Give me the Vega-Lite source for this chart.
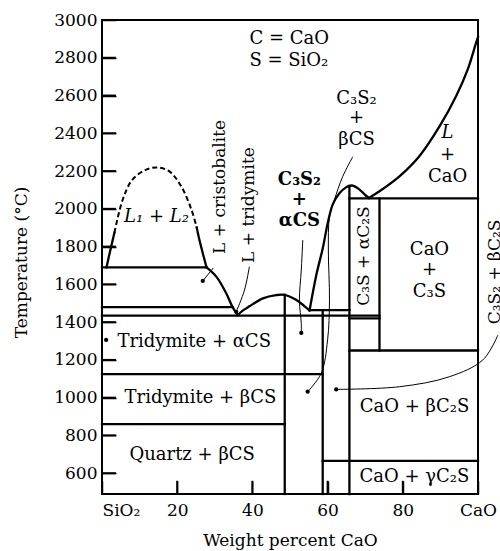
{
  "$schema": "https://vega.github.io/schema/vega-lite/v6.json",
  "width": 376,
  "height": 474,
  "autosize": {"type": "none"},
  "padding": {"left": 102, "top": 20, "right": 22, "bottom": 57},
  "background": "white",
  "config": {
    "view": {"stroke": "black", "strokeWidth": 2},
    "font": "DejaVu Serif",
    "axis": {
      "grid": false,
      "domain": false,
      "labelFont": "DejaVu Serif",
      "titleFont": "DejaVu Serif",
      "labelColor": "black",
      "titleColor": "black",
      "tickColor": "black",
      "tickWidth": 1.5,
      "labelFontSize": 17,
      "titleFontSize": 17,
      "titleFontWeight": "normal"
    }
  },
  "datasets": {
    "bounds": [
      {"seg": "s1", "i": 0, "x": 0, "t": 1690}, {"seg": "s1", "i": 1, "x": 27.8, "t": 1690},
      {"seg": "s2", "i": 0, "x": 0, "t": 1480}, {"seg": "s2", "i": 1, "x": 34.7, "t": 1480},
      {"seg": "s3", "i": 0, "x": 0, "t": 1435}, {"seg": "s3", "i": 1, "x": 73.8, "t": 1435},
      {"seg": "s4", "i": 0, "x": 0, "t": 1125}, {"seg": "s4", "i": 1, "x": 58.7, "t": 1125},
      {"seg": "s5", "i": 0, "x": 0, "t": 860}, {"seg": "s5", "i": 1, "x": 48.6, "t": 860},
      {"seg": "s6", "i": 0, "x": 48.6, "t": 1545}, {"seg": "s6", "i": 1, "x": 48.6, "t": 490},
      {"seg": "s7", "i": 0, "x": 58.7, "t": 1462}, {"seg": "s7", "i": 1, "x": 58.7, "t": 490},
      {"seg": "s8", "i": 0, "x": 65.8, "t": 2122}, {"seg": "s8", "i": 1, "x": 65.8, "t": 490},
      {"seg": "s9", "i": 0, "x": 73.8, "t": 2055}, {"seg": "s9", "i": 1, "x": 73.8, "t": 1250},
      {"seg": "s10", "i": 0, "x": 65.8, "t": 2055}, {"seg": "s10", "i": 1, "x": 100, "t": 2055},
      {"seg": "s11", "i": 0, "x": 65.8, "t": 1250}, {"seg": "s11", "i": 1, "x": 100, "t": 1250},
      {"seg": "s12", "i": 0, "x": 58.7, "t": 665}, {"seg": "s12", "i": 1, "x": 100, "t": 665},
      {"seg": "s13", "i": 0, "x": 55.2, "t": 1464}, {"seg": "s13", "i": 1, "x": 65.8, "t": 1464},
      {"seg": "s14", "i": 0, "x": 65.8, "t": 1420}, {"seg": "s14", "i": 1, "x": 73.8, "t": 1420},
      {"seg": "s15a", "i": 0, "x": 1.2, "t": 1690}, {"seg": "s15a", "i": 1, "x": 2.2, "t": 1780}, {"seg": "s15a", "i": 2, "x": 3.3, "t": 1873},
      {"seg": "s15c", "i": 0, "x": 25.2, "t": 1900}, {"seg": "s15c", "i": 1, "x": 25.9, "t": 1836}, {"seg": "s15c", "i": 2, "x": 27.0, "t": 1750}, {"seg": "s15c", "i": 3, "x": 27.8, "t": 1690},
      {"seg": "s16", "i": 0, "x": 27.8, "t": 1690}, {"seg": "s16", "i": 1, "x": 30.4, "t": 1641}, {"seg": "s16", "i": 2, "x": 33.0, "t": 1554}, {"seg": "s16", "i": 3, "x": 34.7, "t": 1481}, {"seg": "s16", "i": 4, "x": 36.1, "t": 1437},
      {"seg": "s17", "i": 0, "x": 36.1, "t": 1437}, {"seg": "s17", "i": 1, "x": 37.5, "t": 1462}, {"seg": "s17", "i": 2, "x": 39.2, "t": 1484}, {"seg": "s17", "i": 3, "x": 42.8, "t": 1526}, {"seg": "s17", "i": 4, "x": 46.3, "t": 1543}, {"seg": "s17", "i": 5, "x": 48.5, "t": 1545}, {"seg": "s17", "i": 6, "x": 51.6, "t": 1519}, {"seg": "s17", "i": 7, "x": 53.9, "t": 1484}, {"seg": "s17", "i": 8, "x": 55.2, "t": 1462},
      {"seg": "s18", "i": 0, "x": 55.2, "t": 1462}, {"seg": "s18", "i": 1, "x": 57.0, "t": 1650}, {"seg": "s18", "i": 2, "x": 58.7, "t": 1790}, {"seg": "s18", "i": 3, "x": 60.1, "t": 1930}, {"seg": "s18", "i": 4, "x": 61.4, "t": 2025}, {"seg": "s18", "i": 5, "x": 63.2, "t": 2084}, {"seg": "s18", "i": 6, "x": 65.0, "t": 2115}, {"seg": "s18", "i": 7, "x": 65.8, "t": 2122}, {"seg": "s18", "i": 8, "x": 66.7, "t": 2123}, {"seg": "s18", "i": 9, "x": 68.5, "t": 2102}, {"seg": "s18", "i": 10, "x": 70.3, "t": 2068}, {"seg": "s18", "i": 11, "x": 71.0, "t": 2058},
      {"seg": "s19", "i": 0, "x": 71.0, "t": 2058}, {"seg": "s19", "i": 1, "x": 73.8, "t": 2093}, {"seg": "s19", "i": 2, "x": 79.1, "t": 2172}, {"seg": "s19", "i": 3, "x": 84.4, "t": 2279}, {"seg": "s19", "i": 4, "x": 89.8, "t": 2438}, {"seg": "s19", "i": 5, "x": 94.2, "t": 2598}, {"seg": "s19", "i": 6, "x": 97.3, "t": 2740}, {"seg": "s19", "i": 7, "x": 99.5, "t": 2880}, {"seg": "s19", "i": 8, "x": 100, "t": 2910}
    ],
    "dashed": [
      {"seg": "d1", "i": 0, "x": 3.3, "t": 1873}, {"seg": "d1", "i": 1, "x": 5.5, "t": 2048}, {"seg": "d1", "i": 2, "x": 8.1, "t": 2155}, {"seg": "d1", "i": 3, "x": 11.8, "t": 2208}, {"seg": "d1", "i": 4, "x": 14.8, "t": 2219}, {"seg": "d1", "i": 5, "x": 18.0, "t": 2197}, {"seg": "d1", "i": 6, "x": 21.1, "t": 2118}, {"seg": "d1", "i": 7, "x": 23.8, "t": 1995}, {"seg": "d1", "i": 8, "x": 25.2, "t": 1900}
    ],
    "leaders": [
      {"seg": "L1", "i": 0, "x": 29.6, "t": 1687}, {"seg": "L1", "i": 1, "x": 26.8, "t": 1618},
      {"seg": "L2", "i": 0, "x": 39.2, "t": 1694}, {"seg": "L2", "i": 1, "x": 37.9, "t": 1570}, {"seg": "L2", "i": 2, "x": 35.7, "t": 1455},
      {"seg": "L3", "i": 0, "x": 53.4, "t": 1835}, {"seg": "L3", "i": 1, "x": 53.0, "t": 1676}, {"seg": "L3", "i": 2, "x": 52.5, "t": 1517}, {"seg": "L3", "i": 3, "x": 53.0, "t": 1394}, {"seg": "L3", "i": 4, "x": 53.0, "t": 1343},
      {"seg": "L4", "i": 0, "x": 66.7, "t": 2276}, {"seg": "L4", "i": 1, "x": 64.0, "t": 2170}, {"seg": "L4", "i": 2, "x": 61.8, "t": 2047}, {"seg": "L4", "i": 3, "x": 60.5, "t": 1958}, {"seg": "L4", "i": 4, "x": 60.2, "t": 1782}, {"seg": "L4", "i": 5, "x": 60.5, "t": 1517}, {"seg": "L4", "i": 6, "x": 60.0, "t": 1306}, {"seg": "L4", "i": 7, "x": 58.3, "t": 1129}, {"seg": "L4", "i": 8, "x": 54.7, "t": 1032},
      {"seg": "L5", "i": 0, "x": 105.3, "t": 1332}, {"seg": "L5", "i": 1, "x": 101.3, "t": 1200}, {"seg": "L5", "i": 2, "x": 92.4, "t": 1111}, {"seg": "L5", "i": 3, "x": 79.1, "t": 1058}, {"seg": "L5", "i": 4, "x": 62.3, "t": 1044}
    ],
    "arrows": [
      {"x": 26.8, "t": 1618}, {"x": 35.7, "t": 1455}, {"x": 53.0, "t": 1343}, {"x": 54.7, "t": 1032}, {"x": 62.3, "t": 1044}, {"x": 1.1, "t": 1306}
    ],
    "xticks": [{"x": 20, "t": 490}, {"x": 40, "t": 490}, {"x": 60, "t": 490}, {"x": 80, "t": 490}],
    "yticks": [{"x": 0, "t": 600}, {"x": 0, "t": 800}, {"x": 0, "t": 1000}, {"x": 0, "t": 1200}, {"x": 0, "t": 1400}, {"x": 0, "t": 1600}, {"x": 0, "t": 1800}, {"x": 0, "t": 2000}, {"x": 0, "t": 2200}, {"x": 0, "t": 2400}, {"x": 0, "t": 2600}, {"x": 0, "t": 2800}],
    "labelsCenter": [
      {"label": "C₃S₂", "x": 67.7, "t": 2582}, {"label": "+", "x": 67.7, "t": 2481}, {"label": "βCS", "x": 67.7, "t": 2365},
      {"label": "+", "x": 91.9, "t": 2285}, {"label": "CaO", "x": 91.9, "t": 2169},
      {"label": "CaO", "x": 87.1, "t": 1782}, {"label": "+", "x": 87.1, "t": 1676}, {"label": "C₃S", "x": 87.1, "t": 1560},
      {"label": "CaO + βC₂S", "x": 83.1, "t": 951},
      {"label": "CaO + γC₂S", "x": 83.1, "t": 580}
    ],
    "labelsLeft": [
      {"label": "C = CaO", "x": 39.2, "t": 2899},
      {"label": "S = SiO₂", "x": 39.2, "t": 2783},
      {"label": "Tridymite + αCS", "x": 4.1, "t": 1295},
      {"label": "Tridymite + βCS", "x": 6.0, "t": 999},
      {"label": "Quartz + βCS", "x": 7.3, "t": 697}
    ],
    "labelsBold": [
      {"label": "C₃S₂", "x": 52.5, "t": 2153}, {"label": "+", "x": 52.5, "t": 2047}, {"label": "αCS", "x": 52.5, "t": 1936}
    ],
    "labelsItalic": [
      {"label": "L₁ + L₂", "x": 14.5, "t": 1957},
      {"label": "L", "x": 91.9, "t": 2402}
    ],
    "labelsRot": [
      {"label": "L + cristobalite", "x": 31.3, "t": 2116},
      {"label": "L + tridymite", "x": 39.2, "t": 2020},
      {"label": "C₃S + αC₂S", "x": 69.8, "t": 1750},
      {"label": "C₃S₂ + βC₂S", "x": 104.6, "t": 1666}
    ]
  },
  "encoding": {
    "x": {
      "field": "x", "type": "quantitative",
      "scale": {"domain": [0, 100], "nice": false, "zero": false},
      "axis": {
        "values": [0, 20, 40, 60, 80, 100],
        "labelExpr": "datum.value == 0 ? 'SiO₂' : datum.value == 100 ? 'CaO' : datum.label",
        "labelAlign": {"condition": {"test": "datum.value == 0", "value": "left"}, "value": "center"},
        "tickSize": -13,
        "labelPadding": 21,
        "title": "Weight percent CaO",
        "titleBaseline": "middle",
        "titleY": 46
      }
    },
    "y": {
      "field": "t", "type": "quantitative",
      "scale": {"domain": [490, 3000], "nice": false, "zero": false},
      "axis": {
        "values": [600, 800, 1000, 1200, 1400, 1600, 1800, 2000, 2200, 2400, 2600, 2800, 3000],
        "format": "d",
        "tickSize": -14,
        "labelPadding": 19,
        "title": "Temperature (°C)",
        "titleBaseline": "middle",
        "titleX": -81,
        "titleY": 242
      }
    }
  },
  "layer": [
    {
      "data": {"name": "xticks"},
      "mark": {"type": "rule", "color": "black", "strokeWidth": 2},
      "encoding": {"y2": {"datum": 560}}
    },
    {
      "data": {"name": "yticks"},
      "mark": {"type": "rule", "color": "black", "strokeWidth": 2},
      "encoding": {"x2": {"datum": 3.7}}
    },
    {
      "data": {"name": "bounds"},
      "mark": {"type": "line", "color": "black", "strokeWidth": 2.3, "interpolate": "catmull-rom", "strokeCap": "square"},
      "encoding": {"detail": {"field": "seg"}, "order": {"field": "i", "type": "quantitative"}}
    },
    {
      "data": {"name": "dashed"},
      "mark": {"type": "line", "color": "black", "strokeWidth": 2, "interpolate": "catmull-rom", "strokeDash": [5, 3]},
      "encoding": {"detail": {"field": "seg"}, "order": {"field": "i", "type": "quantitative"}}
    },
    {
      "data": {"name": "leaders"},
      "mark": {"type": "line", "color": "black", "strokeWidth": 1, "interpolate": "catmull-rom"},
      "encoding": {"detail": {"field": "seg"}, "order": {"field": "i", "type": "quantitative"}}
    },
    {
      "data": {"name": "arrows"},
      "mark": {"type": "point", "filled": true, "color": "black", "size": 18, "opacity": 1}
    },
    {
      "data": {"name": "labelsCenter"},
      "mark": {"type": "text", "fontSize": 18, "font": "DejaVu Serif", "color": "black", "align": "center", "baseline": "middle"},
      "encoding": {"text": {"field": "label"}}
    },
    {
      "data": {"name": "labelsLeft"},
      "mark": {"type": "text", "fontSize": 18, "font": "DejaVu Serif", "color": "black", "align": "left", "baseline": "middle"},
      "encoding": {"text": {"field": "label"}}
    },
    {
      "data": {"name": "labelsBold"},
      "mark": {"type": "text", "fontSize": 18, "font": "DejaVu Serif", "fontWeight": "bold", "color": "black", "align": "center", "baseline": "middle"},
      "encoding": {"text": {"field": "label"}}
    },
    {
      "data": {"name": "labelsItalic"},
      "mark": {"type": "text", "fontSize": 18, "font": "DejaVu Serif", "fontStyle": "italic", "color": "black", "align": "center", "baseline": "middle"},
      "encoding": {"text": {"field": "label"}}
    },
    {
      "data": {"name": "labelsRot"},
      "mark": {"type": "text", "fontSize": 17, "font": "DejaVu Serif", "color": "black", "align": "center", "baseline": "middle", "angle": 270},
      "encoding": {"text": {"field": "label"}}
    }
  ]
}
